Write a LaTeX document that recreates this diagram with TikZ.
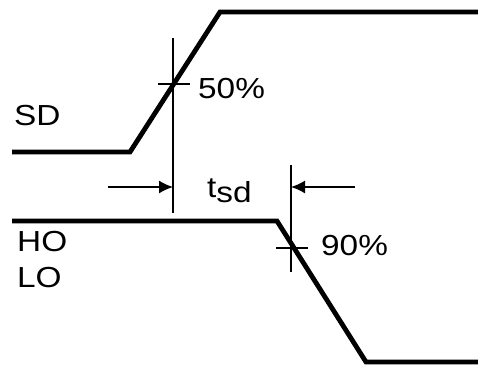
\documentclass[tikz,border=0pt]{standalone}
\usepackage{fontspec}
\setmainfont{Liberation Sans}
\usetikzlibrary{positioning,arrows.meta}
\newcommand\wtext[1]{\scalebox{1.15}[1]{#1}}

\begin{document}
\begin{tikzpicture}[x=1pt,y=-1pt,>={Latex[length=14pt,width=13pt]},
    every node/.style={font=\fontsize{29}{32}\selectfont,inner sep=0pt,anchor=west},
    wave/.style={line width=4.8pt,line join=miter},
    guide/.style={line width=1.5pt}]
    \useasboundingbox (0,0) rectangle (478,364);
    % SD waveform
    \coordinate (sd0) at (12,152);
    \coordinate (sd1) at (130,152);
    \coordinate (sd2) at (220,12);
    \coordinate (sd3) at (480,12);
    \draw [wave] (sd0) -- (sd1) -- (sd2) -- (sd3);
    % HO/LO waveform
    \coordinate (ho0) at (12,221);
    \coordinate (ho1) at (277,221);
    \coordinate (ho2) at (366,362);
    \coordinate (ho3) at (480,362);
    \draw [wave] (ho0) -- (ho1) -- (ho2) -- (ho3);
    % markers
    \draw [guide] (173,38) -- (173,213);
    \draw [guide] (158,84) -- (190,84);
    \draw [guide] (291,165) -- (291,272);
    \draw [guide] (276,248) -- (308,248);
    % delay arrows
    \coordinate (aL) at (108,187);
    \coordinate (aR) at (355,187);
    \draw [guide,->] (aL) -- (173,187);
    \draw [guide,->] (aR) -- (291,187);
    % labels
    \node (sd) at (14,116) {\wtext{SD}};
    \node (p50) at (198,89) {\wtext{50\%}};
    \node (tsd) at (207,191) {\wtext{t\raisebox{-0.35ex}{sd}}};
    \node (ho) at (17,242) {\wtext{HO}};
    \node (lo) at (17,278) {\wtext{LO}};
    \node (p90) at (321,246) {\wtext{90\%}};
\end{tikzpicture}
\end{document}
